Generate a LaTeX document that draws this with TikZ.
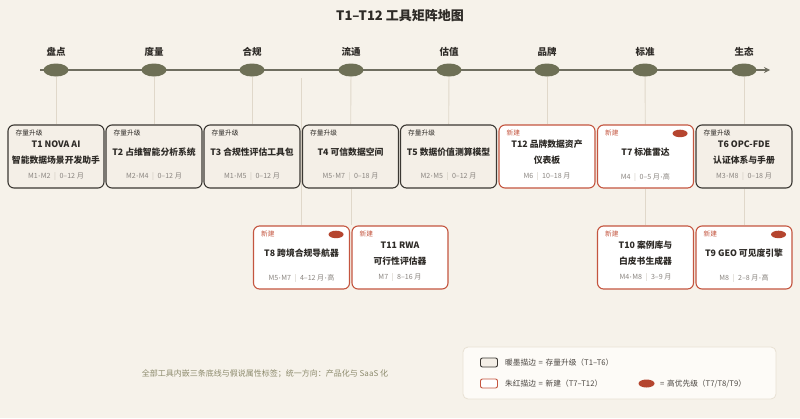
\documentclass[tikz,border=0pt]{standalone}
\usepackage{fontspec}
\setmainfont{Noto Sans CJK SC}
\newfontfamily\latf{Lato}
\usetikzlibrary{arrows.meta,calc,shapes.geometric}
\definecolor{bg}{HTML}{F6F2EA}
\definecolor{olive}{HTML}{6E7056}
\definecolor{axisline}{HTML}{6F6E60}
\definecolor{ink}{HTML}{2E2B27}
\definecolor{oldborder}{HTML}{3B3833}
\definecolor{oldfill}{HTML}{F4EFE7}
\definecolor{newborder}{HTML}{C4553F}
\definecolor{newfill}{HTML}{FFFFFF}
\definecolor{hidot}{HTML}{B5452F}
\definecolor{metagrey}{HTML}{8A8580}
\definecolor{sepgrey}{HTML}{C9C3B8}
\definecolor{connline}{HTML}{E0D8CA}
\definecolor{foot}{HTML}{8C8A6C}
\definecolor{legborder}{HTML}{E8E1D4}
\definecolor{legfill}{HTML}{FDFBF7}
\definecolor{legtext}{HTML}{4A4540}
\pgfdeclarelayer{canvas}
\pgfdeclarelayer{back}
\pgfsetlayers{canvas,back,main}
\tikzset{
  oldcard/.style={draw=oldborder, line width=1.1pt, fill=oldfill, rounded corners=6pt, minimum width=96pt, minimum height=63pt, inner sep=0pt},
  newcard/.style={draw=newborder, line width=1.1pt, fill=newfill, rounded corners=6pt, minimum width=96pt, minimum height=63pt, inner sep=0pt},
  tagold/.style={text=ink, font=\fontsize{6.7}{7}\selectfont, inner sep=0pt, anchor=west},
  tagnew/.style={text=newborder, font=\fontsize{6.7}{7}\selectfont, inner sep=0pt, anchor=west},
  cardtitle/.style={text=ink, font=\fontsize{8.8}{16}\selectfont\bfseries, align=center, inner sep=0pt},
  cardmeta/.style={text=metagrey, font=\fontsize{7.1}{8}\selectfont, inner sep=0pt},
  hi/.style={ellipse, fill=hidot, minimum width=15pt, minimum height=7.5pt, inner sep=0pt},
  axisdot/.style={ellipse, fill=olive, minimum width=25pt, minimum height=13pt, inner sep=0pt},
  axislabel/.style={text=ink, font=\fontsize{9.5}{11}\selectfont\bfseries, inner sep=0pt},
  conn/.style={draw=connline, line width=0.9pt},
  legtxt/.style={text=legtext, font=\fontsize{7.7}{8}\selectfont, inner sep=0pt, anchor=west},
}
\newcommand\tagtextold{存量升级}
\newcommand\tagtextnew{新建}
\newcommand\md{\hspace{0.08em}{\latf ·}\hspace{0.08em}}
\newcommand\sepbar{\hspace{0.5em}{\color{sepgrey}|}\hspace{0.5em}}
\newcommand\eqs{\hspace{0.35em}=\hspace{0.35em}}
% #1 name, #2 center x, #3 top y, #4 old/new, #5 title, #6 meta
\newcommand\toolcard[6]{%
  \node[#4card] (#1) at (#2,#3+31.5) {};
  \node[tag#4] (#1tag) at ([xshift=8pt,yshift=-8.5pt]#1.north west) {\csname tagtext#4\endcsname};
  \node[cardtitle] (#1title) at (#2,#3+27.5) {#5};
  \node[cardmeta] (#1meta) at (#2,#3+52) {#6};
}
\newcommand\hidot[1]{\node[hi] (#1hi) at ([xshift=-14pt,yshift=-9pt]#1.north east) {};}
\begin{document}
\begin{tikzpicture}[x=1pt,y=-1pt]
\useasboundingbox (0,0) rectangle (800,418);
\begin{pgfonlayer}{canvas}
\fill[bg] (0,0) rectangle (800,418);
\end{pgfonlayer}
% title
\node[text=ink, font=\fontsize{13}{15}\selectfont\bfseries, inner sep=0pt] (title) at (400,16) {T1–T12 工具矩阵地图};
% timeline
\coordinate (tlstart) at (40,70);
\coordinate (tlend) at (770,70);
\draw[axisline, line width=1.8pt, -{Stealth[length=6pt,width=6pt,fill=ink]}] (tlstart) -- (tlend);
\foreach \nm/\x/\lab in {a1/56/盘点, a2/154/度量, a3/252/合规, a4/351/流通, a5/449/估值, a6/547/品牌, a7/645/标准, a8/744/生态}{
  \node[axisdot] (\nm) at (\x,70) {};
  \node[axislabel] (\nm lab) at (\x,52) {\lab};
}
% cards top row
\toolcard{T1}{56}{125}{old}{T1 NOVA AI\\智能数据场景开发助手}{M1\md M2\sepbar 0–12 月}
\toolcard{T2}{154}{125}{old}{T2 占维智能分析系统}{M2\md M4\sepbar 0–12 月}
\toolcard{T3}{252}{125}{old}{T3 合规性评估工具包}{M1\md M5\sepbar 0–12 月}
\toolcard{T4}{350.5}{125}{old}{T4 可信数据空间}{M5\md M7\sepbar 0–18 月}
\toolcard{T5}{448.5}{125}{old}{T5 数据价值测算模型}{M2\md M5\sepbar 0–12 月}
\toolcard{T12}{547}{125}{new}{T12 品牌数据资产\\仪表板}{M6\sepbar 10–18 月}
\toolcard{T7}{645.5}{125}{new}{T7 标准雷达}{M4\sepbar 0–5 月\md 高}
\toolcard{T6}{744}{125}{old}{T6 OPC-FDE\\认证体系与手册}{M3\md M8\sepbar 0–18 月}
% bottom row
\toolcard{T8}{301.5}{226}{new}{T8 跨境合规导航器}{M5\md M7\sepbar 4–12 月\md 高}
\toolcard{T11}{400}{226}{new}{T11 RWA\\可行性评估器}{M7\sepbar 8–16 月}
\toolcard{T10}{645.5}{226}{new}{T10 案例库与\\白皮书生成器}{M4\md M8\sepbar 3–9 月}
\toolcard{T9}{744}{226}{new}{T9 GEO 可见度引擎}{M8\sepbar 2–8 月\md 高}
\hidot{T7}
\hidot{T8}
\hidot{T9}
% connectors
\coordinate (t8src) at (301.5,78);
\begin{pgfonlayer}{back}
\draw[conn] (a1) -- (T1);
\draw[conn] (a2) -- (T2);
\draw[conn] (a3) -- (T3);
\draw[conn] (a4) -- (T4);
\draw[conn] (a5) -- (T5);
\draw[conn] (a6) -- (T12);
\draw[conn] (a7) -- (T7);
\draw[conn] (a8) -- (T6);
\draw[conn] (t8src) -- (T8);
\draw[conn] (T4.south -| a4) -- (T11.north -| a4);
\draw[conn] (T7) -- (T10);
\draw[conn] (T6) -- (T9);
\end{pgfonlayer}
% footer
\node[text=foot, font=\fontsize{8}{9}\selectfont, inner sep=0pt] (footer) at (265,374) {全部工具内嵌三条底线与假说属性标签；统一方向：产品化与 SaaS 化};
% legend
\node[draw=legborder, line width=0.8pt, fill=legfill, rounded corners=5pt, minimum width=313pt, minimum height=52pt, inner sep=0pt] (legend) at (619.5,373) {};
\node[draw=oldborder, line width=0.9pt, fill=oldfill, rounded corners=2pt, minimum width=17pt, minimum height=9pt, inner sep=0pt] (legold) at (489,362.5) {};
\node[legtxt] (legoldtxt) at (505,362.5) {暖墨描边\eqs 存量升级（T1–T6）};
\node[draw=newborder, line width=0.9pt, fill=newfill, rounded corners=2pt, minimum width=17pt, minimum height=9pt, inner sep=0pt] (legnew) at (489,383.5) {};
\node[legtxt] (legnewtxt) at (505,383.5) {朱红描边\eqs 新建（T7–T12）};
\node[hi, minimum width=16pt, minimum height=8pt] (leghi) at (646.5,383.5) {};
\node[legtxt] (leghitxt) at (660,383.5) {=\hspace{0.35em}高优先级（T7/T8/T9）};
\end{tikzpicture}
\end{document}
